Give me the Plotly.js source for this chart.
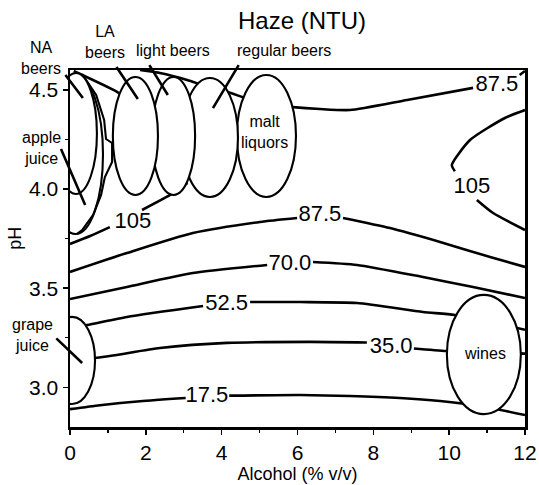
<!DOCTYPE html>
<html>
<head>
<meta charset="utf-8">
<script src="https://cdn.plot.ly/plotly-3.0.1.min.js"></script>
<style>html,body{margin:0;padding:0;background:#fff;}#chart{width:539px;height:485px;}</style>
</head>
<body>
<div id="chart"></div>
<script>
// ---- Contour lines (alcohol % v/v, pH); null = gap for a label ----
const c175Alc = [0, 0.79, 1.85, 3.05, null, 4.2, 6.07, 7.38, 8.70, 9.76, 10.81, 12];
const c175Ph  = [2.89, 2.91, 2.93, 2.946, null, 2.958, 2.961, 2.956, 2.946, 2.931, 2.906, 2.86];

const c350Alc = [0, 0.66, 2.37, 4.14, 6.33, 7.83, null, 9.07, 9.94, 12];
const c350Ph  = [3.15, 3.148, 3.198, 3.224, 3.229, 3.226, null, 3.196, 3.183, 3.17];

const c525Alc = [0, 0.45, 1.50, 3.51, null, 4.75, 6.07, 7.57, 9.31, 10.15, 12];
const c525Ph  = [3.30, 3.314, 3.355, 3.41, null, 3.43, 3.43, 3.425, 3.38, 3.365, 3.29];

const c700Alc = [0, 1.50, 3.24, 5.20, null, 6.41, 7.57, 9.31, 10.63, 12];
const c700Ph  = [3.445, 3.506, 3.576, 3.617, null, 3.632, 3.617, 3.556, 3.506, 3.45];

const c875Alc = [0, 1.50, 3.24, 5.01, 5.99, null, 7.20, 8.44, 9.76, 11.08, 12,
                 null, 1.85, 2.37, 3.09, 3.56, 4.14, 4.54, 5.01, 5.88, 6.59, 7.38, 8.89, 10.63, null, 11.86, 12];
const c875Ph  = [3.582, 3.677, 3.778, 3.834, 3.854, null, 3.854, 3.803, 3.733, 3.657, 3.607,
                 null, 4.60, 4.585, 4.55, 4.52, 4.49, 4.464, 4.434, 4.413, 4.403, 4.398, 4.449, 4.51, null, 4.575, 4.595];

const c105Alc = [0, 0.53, 1.05, null, 1.90, 2.64, 3.1,
                 null, 0.1, 1.24, 1.7,
                 null, 12, 11.47, 10.55, 10.07, 10.15, null, 10.73, 11.16, 12];
const c105Ph  = [3.723, 3.763, 3.808, null, 3.894, 3.970, 4.03,
                 null, 4.595, 4.49, 4.43,
                 null, 4.398, 4.358, 4.247, 4.121, 4.09, null, 3.945, 3.879, 3.793];
// kinked 105 curve beside NA beers / apple juice
const c105kAlc = [0.32, 0.69, 0.90, 0.95, 1.11, 1.11, 0.92, 0.82, 0.61, 0.32, 0.18];
const c105kPh  = [4.58, 4.474, 4.348, 4.252, 4.232, 4.136, 4.060, 3.970, 3.869, 3.793, 3.773];

// ---- Contour labels ----
const levelText = ['105', '87.5', '87.5', '105', '70.0', '52.5', '35.0', '17.5'];
const levelAlc  = [1.66, 6.59, 11.26, 10.60, 5.80, 4.13, 8.47, 3.61];
const levelPh   = [3.83, 3.864, 4.52, 4.01, 3.62, 3.42, 3.20, 2.956];

// ---- Product regions (ellipse extents) ----
const regionName   = ['wines', 'grape juice', 'malt liquors', 'regular beers', 'light beers', 'LA beers', 'apple juice', 'NA beers'];
const regionAlcLo  = [9.94, -0.55, 4.40, 2.95, 2.16, 1.13, -0.58, -0.40];
const regionAlcHi  = [11.89, 0.66, 5.96, 4.43, 3.30, 2.32, 0.87, 0.71];
const regionPhLo   = [2.865, 2.916, 3.96, 3.96, 3.97, 3.97, 3.773, 3.975];
const regionPhHi   = [3.466, 3.355, 4.575, 4.56, 4.565, 4.565, 4.575, 4.585];
const regionFilled = [true, true, true, true, true, true, false, true];

// ---- Region labels (alcohol, pH positions; some sit outside the axes) ----
const tagText = ['NA<br>beers', 'LA<br>beers', 'light beers', 'regular beers', 'apple<br>juice', 'malt<br>liquors', 'grape<br>juice', 'wines'];
const tagAlc  = [-0.77, 0.92, 2.72, 5.64, -0.76, 5.12, -0.98, 10.94];
const tagPh   = [4.66, 4.74, 4.70, 4.70, 4.207, 4.287, 3.264, 3.173];

// ---- Leader lines: from label (alc0, ph0) to region (alc1, ph1) ----
const leadAlc0 = [-0.16, 1.19, 2.06, 4.48, -0.26, -0.40];
const leadPh0  = [4.585, 4.625, 4.635, 4.635, 4.212, 3.254];
const leadAlc1 = [0.34, 1.79, 2.58, 3.77, 0.40, 0.32];
const leadPh1  = [4.459, 4.454, 4.474, 4.408, 3.919, 3.123];

const X_RANGE = [0, 12];
const Y_RANGE = [2.8, 4.6];
const FONT = 'Liberation Sans, Arial, Helvetica, sans-serif';
const lineStyle = {color: '#000', width: 2.6, shape: 'spline', smoothing: 0.6};

const traces = [
  [c175Alc, c175Ph], [c350Alc, c350Ph], [c525Alc, c525Ph],
  [c700Alc, c700Ph], [c875Alc, c875Ph], [c105Alc, c105Ph]
].map(p => ({x: p[0], y: p[1], mode: 'lines', line: lineStyle, connectgaps: false, hoverinfo: 'skip', showlegend: false}));

traces.push({x: c105kAlc, y: c105kPh, mode: 'lines', line: {color: '#000', width: 2.1}, hoverinfo: 'skip', showlegend: false});

traces.push({
  x: levelAlc, y: levelPh, text: levelText, mode: 'text',
  textfont: {family: FONT, size: 22, color: '#000'},
  cliponaxis: false, hoverinfo: 'skip', showlegend: false
});

const shapes = regionName.map((n, i) => ({
  type: 'circle', xref: 'x', yref: 'y', layer: 'above',
  x0: regionAlcLo[i], x1: regionAlcHi[i], y0: regionPhLo[i], y1: regionPhHi[i],
  fillcolor: regionFilled[i] ? '#fff' : 'rgba(0,0,0,0)',
  line: {color: '#000', width: 2.1}
}));

// labels outside the axes are placed in axis-fraction (paper) units derived from the axis ranges
const toPaperX = v => (v - X_RANGE[0]) / (X_RANGE[1] - X_RANGE[0]);
const toPaperY = v => (v - Y_RANGE[0]) / (Y_RANGE[1] - Y_RANGE[0]);

const annotations = tagText.map((t, i) => ({
  x: toPaperX(tagAlc[i]), y: toPaperY(tagPh[i]), xref: 'paper', yref: 'paper', text: t, showarrow: false,
  font: {family: FONT, size: 16, color: '#000'}, xanchor: 'center', yanchor: 'middle'
}));

leadAlc0.forEach((a, i) => {
  annotations.push({
    x: leadAlc1[i], y: leadPh1[i], ax: a, ay: leadPh0[i], axref: 'x', ayref: 'y',
    xref: 'x', yref: 'y', text: ' ', font: {size: 1}, showarrow: true,
    arrowhead: 0, arrowwidth: 2.6, arrowcolor: '#000', standoff: 0, startstandoff: 0
  });
});

// y-axis title
annotations.push({
  x: -0.121, y: 0.53, xref: 'paper', yref: 'paper', text: 'pH', textangle: -90, showarrow: false,
  font: {family: FONT, size: 18, color: '#000'}, xanchor: 'center', yanchor: 'middle'
});

const layout = {
  width: 539, height: 485,
  margin: {l: 70, r: 14, t: 70, b: 58},
  paper_bgcolor: '#fff', plot_bgcolor: '#fff',
  font: {family: FONT, color: '#000'},
  title: {text: 'Haze (NTU)', x: 302 / 539, xanchor: 'center', y: 1 - 21 / 485, yanchor: 'middle',
          font: {family: FONT, size: 24, color: '#000'}},
  xaxis: {
    range: X_RANGE, dtick: 2, tick0: 0, ticks: 'outside', ticklen: 5, tickwidth: 1.5, tickcolor: '#000',
    showline: true, linewidth: 2.5, linecolor: '#000', mirror: true, showgrid: false, zeroline: false,
    minor: {dtick: 1, ticks: 'outside', ticklen: 3, tickwidth: 1.2, tickcolor: '#000', showgrid: false},
    tickfont: {family: FONT, size: 21, color: '#000'},
    title: {text: 'Alcohol (% v/v)', font: {family: FONT, size: 18, color: '#000'}, standoff: 5}
  },
  yaxis: {
    range: Y_RANGE, dtick: 0.5, tick0: 3.0, tickformat: '.1f', ticks: 'outside', ticklen: 5, tickwidth: 1.5, tickcolor: '#000',
    showline: true, linewidth: 2.5, linecolor: '#000', mirror: true, showgrid: false, zeroline: false,
    minor: {dtick: 0.25, ticks: 'outside', ticklen: 3, tickwidth: 1.2, tickcolor: '#000', showgrid: false},
    tickfont: {family: FONT, size: 21, color: '#000'}
  },
  shapes: shapes,
  annotations: annotations,
  showlegend: false
};

Plotly.newPlot('chart', traces, layout, {staticPlot: true, displayModeBar: false});
</script>
</body>
</html>
